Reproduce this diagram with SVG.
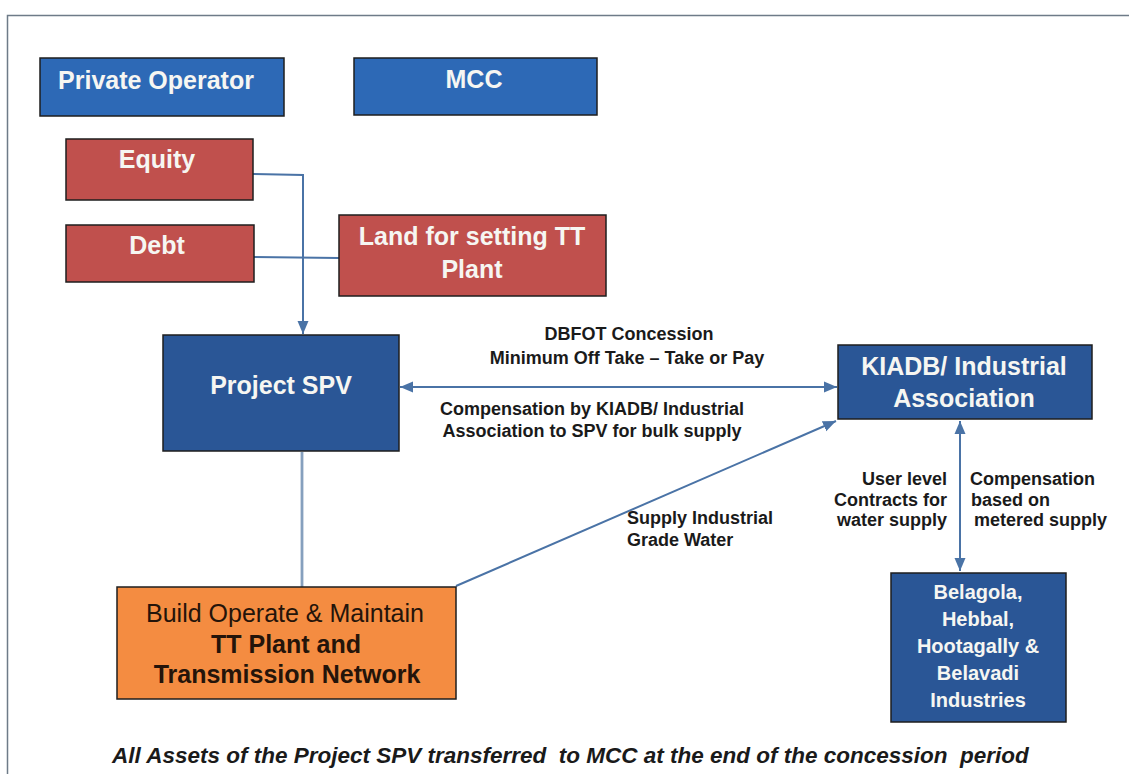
<svg xmlns="http://www.w3.org/2000/svg" width="1129" height="774" viewBox="0 0 1129 774">
  <style>
    .box { stroke: #1e1e1e; stroke-width: 1.5; }
    .op { fill: #2D69B6; }
    .dk { fill: #2A5696; }
    .red { fill: #C0504D; }
    .org { fill: #F48C41; }
    .t { font-family: "Liberation Sans", Arial, sans-serif; font-weight: bold; font-size: 25px; fill: #F6F6F2; text-anchor: middle; }
    .ot { font-family: "Liberation Sans", Arial, sans-serif; font-size: 25px; fill: #24140a; text-anchor: middle; }
    .lb { font-family: "Liberation Sans", Arial, sans-serif; font-weight: bold; font-size: 18px; fill: #1a1a1a; }
    .bt { font-family: "Liberation Sans", Arial, sans-serif; font-weight: bold; font-size: 20px; fill: #F6F6F2; text-anchor: middle; }
    .ln { fill: none; stroke: #4A73A6; stroke-width: 2; }
    .ft { font-family: "Liberation Sans", Arial, sans-serif; font-weight: bold; font-style: italic; font-size: 22.5px; fill: #1a1a1a; }
  </style>
  <defs>
    <marker id="arr" markerUnits="userSpaceOnUse" markerWidth="14" markerHeight="14" viewBox="0 0 14 14" refX="13" refY="7" orient="auto-start-reverse">
      <path d="M0,1.5 L13,7 L0,12.5 Z" fill="#4A73A6"/>
    </marker>
  </defs>

  <rect x="0" y="0" width="1129" height="774" fill="#ffffff"/>
  <!-- page frame -->
  <rect x="7.5" y="15.5" width="1130" height="770" fill="none" stroke="#6E7B88" stroke-width="1.5"/>

  <!-- connectors -->
  <g id="connectors">
    <polyline class="ln" points="253,174 303,175 303,334" marker-end="url(#arr)"/>
    <line class="ln" x1="254" y1="257" x2="339" y2="258"/>
    <line class="ln" x1="400" y1="387" x2="837" y2="387" marker-start="url(#arr)" marker-end="url(#arr)"/>
    <line class="ln" x1="456" y1="586" x2="836" y2="421" marker-end="url(#arr)"/>
    <line class="ln" x1="960" y1="421" x2="960" y2="571" marker-start="url(#arr)" marker-end="url(#arr)"/>
    <line x1="302" y1="452" x2="302" y2="587" stroke="#86A0BE" stroke-width="2.8"/>
  </g>

  <!-- connector labels -->
  <g id="labels">
    <text class="lb" x="629" y="340" text-anchor="middle">DBFOT Concession</text>
    <text class="lb" x="627" y="364" text-anchor="middle">Minimum Off Take – Take or Pay</text>
    <text class="lb" x="592" y="415" text-anchor="middle">Compensation by KIADB/ Industrial</text>
    <text class="lb" x="592" y="437" text-anchor="middle">Association to SPV for bulk supply</text>
    <text class="lb" x="627" y="524">Supply Industrial</text>
    <text class="lb" x="627" y="546">Grade Water</text>
    <g style="font-size:18.5px">
      <text class="lb" x="947" y="485" text-anchor="end">User level</text>
      <text class="lb" x="947" y="505.5" text-anchor="end">Contracts for</text>
      <text class="lb" x="947" y="526" text-anchor="end">water supply</text>
      <text class="lb" x="970" y="485">Compensation</text>
      <text class="lb" x="971" y="505.5">based on</text>
      <text class="lb" x="974" y="526">metered supply</text>
    </g>
  </g>

  <g id="private-operator">
    <rect class="box op" x="40" y="58" width="244" height="58"/>
    <text class="t" x="156" y="89">Private Operator</text>
  </g>
  <g id="mcc">
    <rect class="box op" x="354" y="58" width="243" height="57"/>
    <text class="t" x="474" y="88">MCC</text>
  </g>
  <g id="equity">
    <rect class="box red" x="66" y="139" width="187" height="61"/>
    <text class="t" x="157" y="168">Equity</text>
  </g>
  <g id="debt">
    <rect class="box red" x="66" y="225" width="188" height="57"/>
    <text class="t" x="157" y="254">Debt</text>
  </g>
  <g id="land">
    <rect class="box red" x="339" y="215" width="267" height="81"/>
    <text class="t" x="472" y="245">Land for setting TT</text>
    <text class="t" x="472" y="278">Plant</text>
  </g>
  <g id="project-spv">
    <rect class="box dk" x="163" y="335" width="236" height="116"/>
    <text class="t" x="281" y="394">Project SPV</text>
  </g>
  <g id="kiadb">
    <rect class="box dk" x="838" y="345" width="254" height="74"/>
    <text class="t" x="964" y="375">KIADB/ Industrial</text>
    <text class="t" x="964" y="407">Association</text>
  </g>
  <g id="tt-plant">
    <rect class="box org" x="117" y="587" width="339" height="112"/>
    <text class="ot" x="285" y="622">Build Operate &amp; Maintain</text>
    <text class="ot" x="286" y="652.5" font-weight="bold">TT Plant and</text>
    <text class="ot" x="287" y="683" font-weight="bold">Transmission Network</text>
  </g>
  <g id="industries">
    <rect class="box dk" x="891" y="573" width="175" height="149"/>
    <text class="bt" x="978" y="599">Belagola,</text>
    <text class="bt" x="978" y="626">Hebbal,</text>
    <text class="bt" x="978" y="653">Hootagally &amp;</text>
    <text class="bt" x="978" y="680">Belavadi</text>
    <text class="bt" x="978" y="707">Industries</text>
  </g>

  <text class="ft" x="112" y="763" xml:space="preserve">All Assets of the Project SPV transferred  to MCC at the end of the concession  period</text>
</svg>
